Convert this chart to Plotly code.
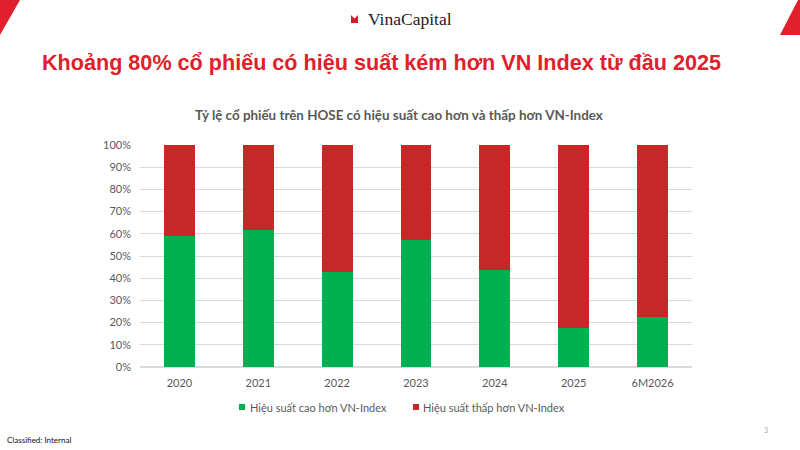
import plotly.graph_objects as go

# Dados
anos = ["2020", "2021", "2022", "2023", "2024", "2025", "6M2026"]
cao_hon = [0.59, 0.617, 0.426, 0.571, 0.436, 0.175, 0.226]
thap_hon = [0.41, 0.383, 0.574, 0.429, 0.564, 0.825, 0.774]
nomes = ["Hiệu suất cao hơn VN-Index", "Hiệu suất thấp hơn VN-Index"]

VERDE = "#00B050"
VERMELHO = "#C62828"
CINZA = "#595959"

# Área do gráfico em pixels
L, R, T, B = 140, 108, 145, 83
W, H = 800, 450
PW, PH = W - L - R, H - T - B


def px(x, y):
    return (x - L) / PW, (H - B - y) / PH


def caminho(pontos):
    partes = []
    for i, (x, y) in enumerate(pontos):
        a, b = px(x, y)
        partes.append(("M" if i == 0 else "L") + f"{a:.5f},{b:.5f}")
    return " ".join(partes) + " Z"


def retangulo(x0, y0, x1, y1, cor):
    a0, b0 = px(x0, y0)
    a1, b1 = px(x1, y1)
    return dict(type="rect", xref="paper", yref="paper", x0=a0, y0=b0, x1=a1, y1=b1,
                fillcolor=cor, line_width=0)


fig = go.Figure()
fig.add_trace(go.Bar(x=anos, y=cao_hon, name=nomes[0],
                     marker_color=VERDE, marker_line_width=0))
fig.add_trace(go.Bar(x=anos, y=thap_hon, name=nomes[1],
                     marker_color=VERMELHO, marker_line_width=0))

formas = [
    dict(type="path", xref="paper", yref="paper", path=caminho([(0, 0), (20, 0), (0, 35)]),
         fillcolor="#E0202A", line_width=0),
    dict(type="path", xref="paper", yref="paper", path=caminho([(798, 0), (800, 0), (800, 35), (780, 35)]),
         fillcolor="#E0202A", line_width=0),
    # ícone do logo
    dict(type="path", xref="paper", yref="paper",
         path=caminho([(351, 15), (354.5, 18.5), (358, 15), (358, 23), (351, 23)]),
         fillcolor="#C8202A", line_width=0),
    # legenda manual
    retangulo(239, 404, 245, 410, VERDE),
    retangulo(413, 404, 419, 410, VERMELHO),
]

anotacoes = [
    dict(text="VinaCapital", x=px(366, 0)[0], y=px(0, 19.5)[1], xanchor="left", yanchor="middle",
         font=dict(family="Liberation Serif", size=17.5, color="#222222")),
    dict(text="<b>Khoảng 80% cổ phiếu có hiệu suất kém hơn VN Index từ đầu 2025</b>",
         x=px(40, 0)[0], y=px(0, 62)[1], xanchor="left", yanchor="middle",
         font=dict(family="Liberation Sans", size=21.6, color="#E0202A")),
    dict(text="<b>Tỷ lệ cổ phiếu trên HOSE có hiệu suất cao hơn và thấp hơn VN-Index</b>",
         x=px(399, 0)[0], y=px(0, 115)[1], xanchor="center", yanchor="middle",
         font=dict(family="Lato", size=13.4, color=CINZA)),
    dict(text=nomes[0], x=px(248, 0)[0], y=px(0, 407)[1], xanchor="left", yanchor="middle",
         font=dict(family="Lato", size=11, color=CINZA)),
    dict(text=nomes[1], x=px(421, 0)[0], y=px(0, 407)[1], xanchor="left", yanchor="middle",
         font=dict(family="Lato", size=11, color=CINZA)),
    dict(text="Classified: Internal", x=px(5, 0)[0], y=px(0, 440)[1], xanchor="left", yanchor="middle",
         font=dict(family="Lato", size=8, color="#111111")),
    dict(text="3", x=px(766, 0)[0], y=px(0, 430)[1], xanchor="center", yanchor="middle",
         font=dict(family="Lato", size=7, color="#AAAAAA")),
]
for a in anotacoes:
    a.update(xref="paper", yref="paper", showarrow=False)

fig.update_layout(
    barmode="stack",
    bargap=0.61,
    width=W, height=H,
    margin=dict(l=L, r=R, t=T, b=B),
    plot_bgcolor="white",
    paper_bgcolor="white",
    font=dict(family="Lato", size=11, color=CINZA),
    shapes=formas,
    annotations=anotacoes,
    showlegend=False,
)
fig.update_xaxes(showgrid=False, showline=False, ticks="", ticklabelstandoff=8,
                 tickfont=dict(size=11, color=CINZA))
fig.update_yaxes(range=[0, 1], dtick=0.1, tickformat=".0%", showgrid=True, gridcolor="#D9D9D9",
                 gridwidth=1, zeroline=True, zerolinecolor="#D9D9D9", ticks="",
                 ticklabelstandoff=8, tickfont=dict(size=11, color=CINZA))

fig.write_html("out.html", config={"displayModeBar": False},
               post_script="document.body.style.margin='0';")
